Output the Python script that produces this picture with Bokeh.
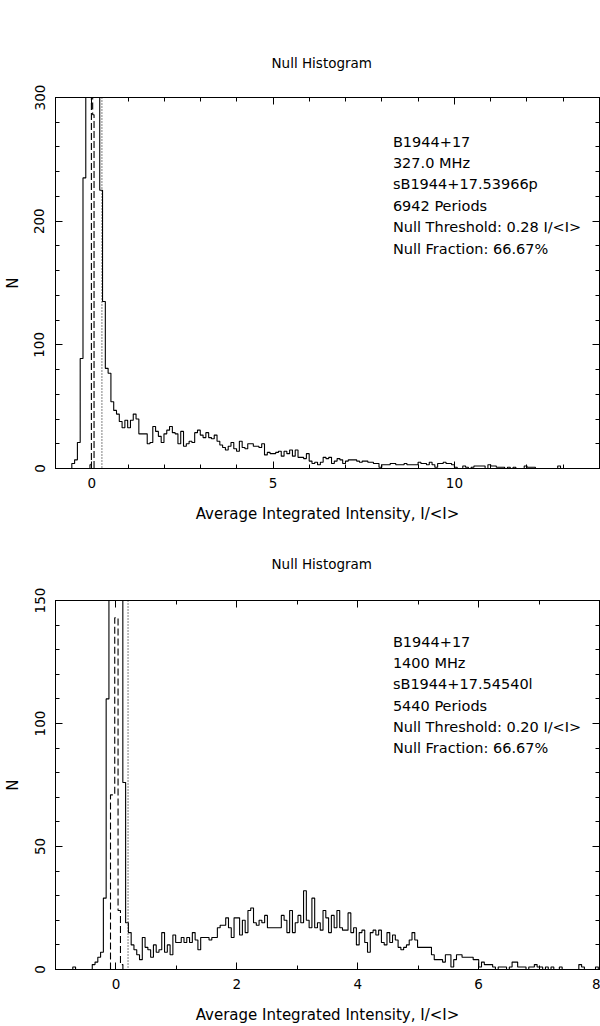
import numpy as np
from bokeh.plotting import figure
from bokeh.models import Range1d, FixedTicker, LinearAxis, Span, Label, Title, CustomJSTickFormatter
from bokeh.layouts import column
from bokeh.embed import file_html
from bokeh.resources import INLINE

# ---------------- data: 327 MHz panel ----------------
top_bin_start = -0.55
top_bin_width = 0.077
top_counts = [
    4, 7, 21, 89, 235, 480, 820, 1000, 830, 520,
    225, 135, 81, 77, 54, 47, 44, 38, 33, 39,
    33, 39, 44, 40, 28, 28, 28, 20, 21, 34,
    30, 26, 21, 28, 31, 34, 29, 28, 20, 30,
    18, 20, 22, 21, 29, 31, 27, 25, 29, 25,
    24, 27, 22, 19, 17, 15, 18, 21, 16, 14,
    22, 17, 16, 20, 20, 18, 18, 17, 20, 11,
    13, 12, 12, 13, 14, 10, 14, 12, 15, 10,
    15, 9, 9, 8, 12, 6, 4, 5, 3, 5,
    9, 8, 9, 4, 6, 8, 7, 4, 6, 7,
    7, 7, 6, 5, 6, 6, 5, 5, 4, 4,
    1, 3, 3, 3, 4, 4, 3, 3, 3, 4,
    3, 3, 3, 3, 5, 4, 4, 3, 5, 3,
    1, 4, 4, 5, 4, 4, 3, 1, 0, 0,
    2, 1, 0, 1, 2, 2, 2, 2, 0, 3,
    2, 2, 1, 1, 1, 0, 1, 0, 1, 0,
    0, 0, 2, 1, 1, 1, 0, 0, 0, 0,
    0, 0, 0, 0, 2,
]
top_off_edges = [-0.05, -0.01, 0.025, 0.063]
top_off_counts = [3, 2500, 286]
top_threshold = 0.28
top_info = ["B1944+17", "327.0 MHz", "sB1944+17.53966p", "6942 Periods",
            "Null Threshold: 0.28 I/<I>", "Null Fraction: 66.67%"]
top_xrange = (-1, 14)
top_yrange = (0, 300)
top_xticks = [0, 5, 10]
top_xminor = list(range(-1, 15))
top_yticks = [0, 100, 200, 300]
top_yminor = list(range(0, 301, 20))

# ---------------- data: 1400 MHz panel ----------------
bot_bin_start = -0.714
bot_bin_width = 0.046
bot_counts = [
    1, 0, 0, 0, 0, 0, 0, 2, 3, 5, 7,
    29, 110, 320, 700, 900, 680, 340,
    76, 19, 15, 10, 8, 6, 4,
    13, 9, 8, 5, 10, 7, 8, 15, 7, 10,
    6, 14, 11, 11, 13, 11, 13, 11, 15, 12,
    8, 13, 13, 13, 12, 13, 13, 17, 18, 18,
    21, 17, 13, 21, 21, 14, 20, 15, 24, 25,
    19, 18, 20, 19, 22, 17, 17, 17, 17, 17,
    22, 20, 15, 24, 15, 19, 22, 19, 32, 20,
    17, 29, 17, 19, 16, 24, 21, 15, 22, 17,
    24, 17, 16, 16, 23, 15, 17, 10, 15, 16,
    11, 7, 15, 16, 14, 16, 11, 10, 15, 11,
    14, 12, 9, 8, 9, 10, 12, 15, 12, 9,
    9, 9, 9, 9, 6, 4, 4, 4, 3, 6,
    6, 1, 4, 6, 6, 5, 5, 5, 5, 4,
    4, 1, 3, 2, 2, 2, 1, 0, 1, 1,
    1, 0, 1, 3, 3, 1, 1, 1, 0, 1,
    1, 2, 1, 1, 0, 1, 0, 1, 0, 0,
    1, 0, 0, 0, 0, 0, 0, 2, 1, 0,
    0, 0, 0, 1,
]
bot_off_edges = [-0.09, -0.02, 0.035, 0.075, 0.115]
bot_off_counts = [71, 143, 24, 2]
bot_threshold = 0.20
bot_info = ["B1944+17", "1400 MHz", "sB1944+17.54540l", "5440 Periods",
            "Null Threshold: 0.20 I/<I>", "Null Fraction: 66.67%"]
bot_xrange = (-1, 8)
bot_yrange = (0, 150)
bot_xticks = [0, 2, 4, 6, 8]
bot_xminor = list(range(-1, 9))
bot_yticks = [0, 50, 100, 150]
bot_yminor = list(range(0, 151, 10))

TITLE = "Null Histogram"
XLABEL = "Average Integrated Intensity, I/<I>"
YLABEL = "N"

FONT = "DejaVu Sans"
W = 600
LEFT, RIGHT = 54, 1
FRAME_H = 371


def step_xy(edges, counts):
    edges = list(edges)
    xs = [edges[0]] + edges[:-1] + [edges[-1]]
    ys = [0] + list(counts) + [0]
    return xs, ys


def style_axis(ax, ticks, minor, labels=True):
    ax.ticker = FixedTicker(ticks=ticks, minor_ticks=minor)
    ax.major_tick_in = 7
    ax.major_tick_out = 0
    ax.minor_tick_in = 4
    ax.minor_tick_out = 0
    ax.axis_line_color = "black"
    ax.major_tick_line_color = "black"
    ax.minor_tick_line_color = "black"
    if labels:
        ax.major_label_text_font = FONT
        ax.major_label_text_font_size = "13.5px"
        ax.major_label_text_color = "black"
        ax.axis_label_text_font = FONT
        ax.axis_label_text_font_size = "15px"
        ax.axis_label_text_font_style = "normal"
        ax.axis_label_text_color = "black"
    else:
        ax.formatter = CustomJSTickFormatter(code="return ''")
        ax.major_label_text_font_size = "1px"
        ax.major_label_standoff = 0


def panel(height, top_border, title_standoff, counts, bin_start, bin_width, off_edges,
          off_counts, threshold, info, xr, yr, xt, xm, yt, ym, info_top, info_step):
    p = figure(width=W, height=height, x_range=Range1d(*xr), y_range=Range1d(*yr),
               output_backend="svg", toolbar_location=None,
               min_border_left=LEFT, min_border_right=RIGHT,
               min_border_top=top_border,
               min_border_bottom=height - top_border - FRAME_H,
               background_fill_color="white", border_fill_color="white")
    p.title = Title(text=TITLE, align="left", offset=216, text_font=FONT,
                    text_font_size="13.5px", text_font_style="normal",
                    text_color="black", standoff=title_standoff)
    p.xgrid.visible = False
    p.ygrid.visible = False
    p.outline_line_color = "black"
    p.outline_line_alpha = 1.0
    p.outline_line_width = 1

    style_axis(p.xaxis[0], xt, xm)
    style_axis(p.yaxis[0], yt, ym)
    p.xaxis[0].axis_label = XLABEL
    p.yaxis[0].axis_label = YLABEL
    p.xaxis[0].major_label_standoff = 9
    p.xaxis[0].axis_label_standoff = 14
    p.yaxis[0].major_label_orientation = "vertical"
    p.yaxis[0].major_label_standoff = 11
    p.yaxis[0].axis_label_standoff = 10

    ax_top = LinearAxis()
    style_axis(ax_top, xt, xm, labels=False)
    p.add_layout(ax_top, "above")
    ax_right = LinearAxis()
    style_axis(ax_right, yt, ym, labels=False)
    p.add_layout(ax_right, "right")

    # histogram (solid)
    edges = bin_start + bin_width * np.arange(len(counts) + 1)
    xs, ys = step_xy(edges, counts)
    p.step(xs, ys, mode="after", line_color="black", line_width=1.1)

    # off-pulse histogram (dashed)
    oxs, oys = step_xy(off_edges, off_counts)
    p.step(oxs, oys, mode="after", line_color="black", line_width=1.1, line_dash="7 3")

    # threshold (dotted)
    p.add_layout(Span(location=threshold, dimension="height", line_color="black",
                      line_width=1, line_dash="1 2"))

    # info block, positioned by pixel offsets inside the frame
    x0 = xr[0] + (392 - LEFT) / (W - LEFT - RIGHT) * (xr[1] - xr[0])
    for i, t in enumerate(info):
        py = info_top + i * info_step          # pixels below frame top
        y = yr[1] - py / FRAME_H * (yr[1] - yr[0])
        p.add_layout(Label(x=x0, y=y, text=t, text_font=FONT, text_font_size="14.5px",
                           text_color="black", text_baseline="middle", text_align="left"))
    return p


p1 = panel(525, 97, 54, top_counts, top_bin_start, top_bin_width, top_off_edges,
           top_off_counts, top_threshold, top_info, top_xrange, top_yrange, top_xticks,
           top_xminor, top_yticks, top_yminor, 44, 21.4)
p2 = panel(501, 74, 57, bot_counts, bot_bin_start, bot_bin_width, bot_off_edges,
           bot_off_counts, bot_threshold, bot_info, bot_xrange, bot_yrange, bot_xticks,
           bot_xminor, bot_yticks, bot_yminor, 42, 21.2)

layout = column(p1, p2, spacing=0)
open("out.html", "w").write(file_html(layout, INLINE))
